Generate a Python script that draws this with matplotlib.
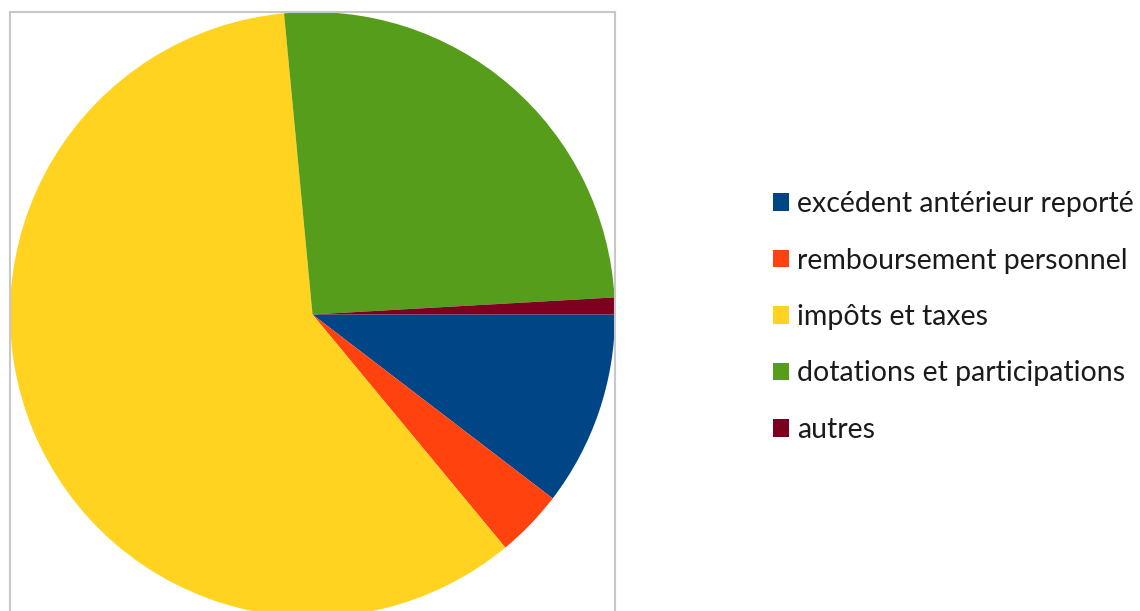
import matplotlib.pyplot as plt

# Data (share of receipts, %)
labels = ['excédent antérieur reporté', 'remboursement personnel', 'impôts et taxes',
          'dotations et participations', 'autres']
values = [10.4, 3.6, 59.5, 25.6, 0.9]
colors = ['#004586', '#ff420e', '#ffd320', '#579d1c', '#7e0021']

W, H = 1140, 611
fig = plt.figure(figsize=(W / 100, H / 100), dpi=100)
plt.rcParams['font.family'] = ['Lato', 'DejaVu Sans']

# axes box in pixels: left 10, top 12, size 605 x 605 (runs off the bottom)
left, top, size = 10, 12, 605
ax = fig.add_axes([left / W, (H - top - size) / H, size / W, size / H])
wedges, _ = ax.pie(values, colors=colors, startangle=0, counterclock=False,
                   radius=1.0, wedgeprops=dict(linewidth=0))
ax.set_xlim(-1.0, 1.0)
ax.set_ylim(-1.0, 1.0)
ax.set_aspect('auto')
ax.set_frame_on(True)
ax.set_xticks([])
ax.set_yticks([])
for s in ax.spines.values():
    s.set_color('#c8c8c8')
    s.set_linewidth(1.5)

fs = 20.5
fig.legend(wedges, labels, loc='center left',
           bbox_to_anchor=(773 / W, (H - 317) / H), frameon=False,
           fontsize=fs, borderpad=0, borderaxespad=0,
           handlelength=0.56, handleheight=0.56, handletextpad=0.28,
           labelspacing=1.07, labelcolor='#1a1a1a')

fig.savefig('out.png', dpi=100)
